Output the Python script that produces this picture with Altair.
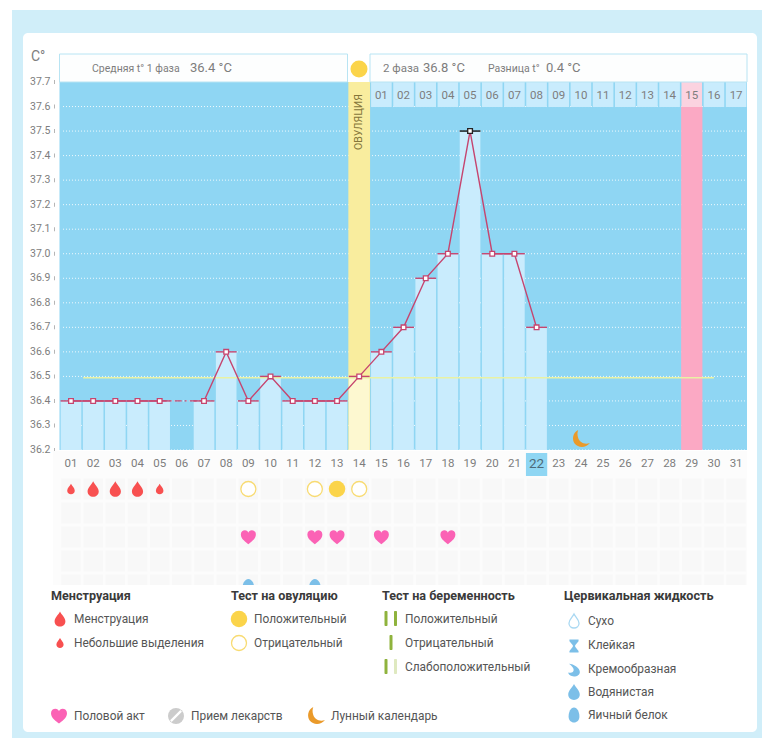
import altair as alt
import pandas as pd

FONT = "Roboto"
days = list(range(1, 32))
temps = [36.4, 36.4, 36.4, 36.4, 36.4, None, 36.4, 36.6, 36.4, 36.5, 36.4, 36.4, 36.4, 36.5,
         36.6, 36.7, 36.9, 37.0, 37.5, 37.0, 37.0, 36.7]
ticks_t = [36.2, 36.3, 36.4, 36.5, 36.6, 36.7, 36.8, 36.9, 37.0, 37.1, 37.2, 37.3, 37.4, 37.5, 37.6, 37.7]
grid_t = ticks_t[:-1]
cycle_days = list(range(15, 32))
cycle_labels = ["%02d" % i for i in range(1, 18)]
ovulation_day = 14
peak_day = 19
fertile_day = 29
current_day = 22
moon_day = 24
cover_t = 36.495
cover_days = [1.55, 30]
gap_days = [5, 7]
gap_t = 36.4
heavy = [2, 3, 4]
light = [1, 5]
ovu_neg = [9, 12, 14]
ovu_pos = [13]
hearts = [9, 12, 13, 15, 18]
fluid = [9, 12]
rows = [1, 2, 3, 4, 5]

BG, CARD, BLUE, BAR = "#d0eef9", "#ffffff", "#8fd6f3", "#c9ecfd"
RED, YEL, PINK, FL = "#f85050", "#fbd44a", "#fb62b5", "#7cbfe8"
LINE, GRAY, DARK, ORANGE = "#c6456f", "#7d7d7d", "#3a3a3a", "#ea9a2a"

DROP = "M0,-1 C0.2,-0.55 0.72,-0.2 0.72,0.32 C0.72,0.72 0.38,1 0,1 C-0.38,1 -0.72,0.72 -0.72,0.32 C-0.72,-0.2 -0.2,-0.55 0,-1 Z"
HEART = "M0,0.95 C-0.3,0.65 -1,0.3 -1,-0.35 C-1,-0.72 -0.72,-0.9 -0.45,-0.9 C-0.22,-0.9 -0.06,-0.75 0,-0.58 C0.06,-0.75 0.22,-0.9 0.45,-0.9 C0.72,-0.9 1,-0.72 1,-0.35 C1,0.3 0.3,0.65 0,0.95 Z"
MOON = "M-0.3,-1 C-0.95,-0.7 -1,0.1 -0.7,0.5 C-0.3,1 0.5,1.05 1,0.45 C0.4,0.65 -0.15,0.4 -0.3,-0.1 C-0.42,-0.45 -0.4,-0.75 -0.3,-1 Z"
EGG = "M0,-1 C0.45,-1 0.72,-0.4 0.72,0.2 C0.72,0.7 0.4,1 0,1 C-0.4,1 -0.72,0.7 -0.72,0.2 C-0.72,-0.4 -0.45,-1 0,-1 Z"
STICKY = "M-0.7,-1 L0.7,-1 L0.7,-0.75 L0.18,-0.1 L0.18,0.1 L0.7,0.75 L0.7,1 L-0.7,1 L-0.7,0.75 L-0.18,0.1 L-0.18,-0.1 L-0.7,-0.75 Z"
CREAM = "M-0.8,-0.95 C0,-0.9 0.9,-0.3 0.9,0.3 C0.9,0.75 0.45,1 0,1 C-0.45,1 -0.85,0.75 -0.9,0.4 C-0.35,0.55 0.1,0.2 -0.1,-0.25 C-0.25,-0.55 -0.55,-0.8 -0.8,-0.95 Z"
SLASH = "M0.62,-0.85 L0.85,-0.62 L-0.62,0.85 L-0.85,0.62 Z"

ONE = alt.Data(values=[{"a": 1}])
X_SCALE = alt.Scale(domain=[0.5, 31.5], range=[51.9, 739.2], nice=False, zero=False)
Y_SCALE = alt.Scale(domain=[36.2, 37.7], range=[442, 74], nice=False, zero=False)
R_SCALE = alt.Scale(domain=[1, 5], range=[481, 577], nice=False, zero=False)
X = alt.X("day:Q", scale=X_SCALE, axis=None)
Y = alt.Y("t:Q", scale=Y_SCALE, axis=None)
R = alt.Y("row:Q", scale=R_SCALE, axis=None)
HW = 0.465


def rect(x0, x1, y0, y1, color, **kw):
    return alt.Chart(ONE).mark_rect(color=color, **kw).encode(
        x=alt.value(x0 - 8), x2=alt.value(x1 - 8), y=alt.value(y0 - 8), y2=alt.value(y1 - 8))


def label(text, x, y, size=12, color=GRAY, weight="normal", align="left", angle=0):
    return alt.Chart(ONE).mark_text(font=FONT, fontSize=size, color=color, fontWeight=weight,
                                    align=align, baseline="middle", angle=angle).encode(
        x=alt.value(x - 8), y=alt.value(y - 8), text=alt.value(text))


def sym(x, y, shape, px, color, stroke=None):
    opts = dict(shape=shape, size=px * px, opacity=1)
    if stroke:
        opts.update(filled=True, fill=color, stroke=stroke, strokeWidth=1.3)
    else:
        opts.update(filled=True, color=color, strokeWidth=0)
    return alt.Chart(ONE).mark_point(**opts).encode(x=alt.value(x - 8), y=alt.value(y - 8))


def marks_row(day_list, row, shape, px, color, stroke=None):
    df = pd.DataFrame({"day": day_list, "row": [row] * len(day_list)})
    opts = dict(shape=shape, size=px * px, opacity=1)
    if stroke:
        opts.update(filled=True, fill=color, stroke=stroke, strokeWidth=1.3)
    else:
        opts.update(filled=True, color=color, strokeWidth=0)
    return alt.Chart(df).mark_point(**opts).encode(x=X, y=R)


L = []
# page panels
L.append(rect(12, 768, 10, 738, BG))
L.append(rect(23, 757, 33, 732, CARD, cornerRadius=5))
L.append(rect(59.5, 747, 82, 450, BLUE))

# grid
L.append(alt.Chart(pd.DataFrame({"t": grid_t})).mark_rule(color="white", strokeDash=[1, 2], opacity=0.85, strokeWidth=1)
         .encode(y=Y, x=alt.value(55), x2=alt.value(738)))

# ovulation + fertile columns
L.append(alt.Chart(pd.DataFrame({"day": [ovulation_day], "t": [ticks_t[0]], "t2": [ticks_t[-1]]}))
         .transform_calculate(a="datum.day-0.49", b="datum.day+0.49")
         .mark_rect(color="#f9ed9e")
         .encode(x=alt.X("a:Q", scale=X_SCALE, axis=None), x2="b:Q", y=Y, y2="t2:Q"))
L.append(alt.Chart(pd.DataFrame({"day": [fertile_day], "t": [ticks_t[0]], "t2": [grid_t[-1]]}))
         .transform_calculate(a="datum.day-0.48", b="datum.day+0.48")
         .mark_rect(color="#fba9c4")
         .encode(x=alt.X("a:Q", scale=X_SCALE, axis=None), x2="b:Q", y=Y, y2="t2:Q"))

# bars
bars = pd.DataFrame({"day": days[:len(temps)], "t": temps}).dropna()
bars["low"] = ticks_t[0]
bars["c"] = ["o" if d == ovulation_day else "n" for d in bars["day"]]
L.append(alt.Chart(bars).transform_calculate(a=f"datum.day-{HW}", b=f"datum.day+{HW}")
         .mark_rect()
         .encode(x=alt.X("a:Q", scale=X_SCALE, axis=None), x2="b:Q", y=Y, y2="low:Q",
                 color=alt.Color("c:N", legend=None,
                                 scale=alt.Scale(domain=["n", "o"], range=[BAR, "#fdf8d0"]))))

# cycle-day cells on top
cyc = pd.DataFrame({"day": cycle_days, "lab": cycle_labels})
cyc["c"] = ["p" if d == fertile_day else "n" for d in cycle_days]
L.append(alt.Chart(cyc).transform_calculate(a=f"datum.day-{HW}", b=f"datum.day+{HW}")
         .mark_rect()
         .encode(x=alt.X("a:Q", scale=X_SCALE, axis=None), x2="b:Q", y=alt.value(74), y2=alt.value(99),
                 color=alt.Color("c:N", legend=None,
                                 scale=alt.Scale(domain=["n", "p"], range=[BAR, "#fbd3e0"]))))
L.append(alt.Chart(cyc).mark_text(font=FONT, fontSize=11.5, color=GRAY, baseline="middle")
         .encode(x=X, y=alt.value(88), text="lab:N"))

# header boxes
L.append(rect(59.5, 347.5, 54, 82, "#fdfefe", stroke="#b8e4f3", strokeWidth=1))
L.append(rect(370, 747, 54, 82, "#fdfefe", stroke="#b8e4f3", strokeWidth=1))
L.append(sym(359, 69, "circle", 17, YEL))
L.append(label("Средняя t° 1 фаза", 92, 69, 10.5))
L.append(label("36.4 °C", 190, 68, 13))
L.append(label("2 фаза", 383, 69, 11.5))
L.append(label("36.8 °C", 423, 68, 13))
L.append(label("Разница t°", 488, 69, 10.5))
L.append(label("0.4 °C", 546, 68, 13))
L.append(label("ОВУЛЯЦИЯ", 359, 122, 10.5, "#85763a", align="center", angle=270))

# cover line
L.append(alt.Chart(pd.DataFrame({"a": [cover_days[0]], "b": [cover_days[1]], "t": [cover_t]}))
         .mark_rule(color="#e9f2a4", strokeWidth=1.5)
         .encode(x=alt.X("a:Q", scale=X_SCALE, axis=None), x2="b:Q", y=Y))

# temperature line
line_df = pd.DataFrame({"day": days[:len(temps)], "t": temps})
L.append(alt.Chart(pd.DataFrame({"a": [gap_days[0]], "b": [gap_days[1]], "t": [gap_t]}))
         .mark_rule(color=LINE, strokeWidth=1.3, strokeDash=[7, 3, 2, 3])
         .encode(x=alt.X("a:Q", scale=X_SCALE, axis=None), x2="b:Q", y=Y))
L.append(alt.Chart(line_df).mark_line(color=LINE, strokeWidth=1.4).encode(x=X, y=Y))
tick_df = bars.copy()
tick_df["k"] = ["peak" if d == peak_day else "n" for d in tick_df["day"]]
L.append(alt.Chart(tick_df).transform_calculate(a="datum.day-0.47", b="datum.day+0.47")
         .mark_rule(strokeWidth=1.4)
         .encode(x=alt.X("a:Q", scale=X_SCALE, axis=None), x2="b:Q", y=Y,
                 color=alt.Color("k:N", legend=None,
                                 scale=alt.Scale(domain=["n", "peak"], range=[LINE, "#111111"]))))
L.append(alt.Chart(bars).mark_square(size=22, filled=True, fill="white", stroke=LINE, strokeWidth=1.3, opacity=1)
         .encode(x=X, y=Y))
L.append(alt.Chart(pd.DataFrame({"day": [peak_day], "t": [max(t for t in temps if t)]}))
         .mark_square(size=22, filled=True, fill="white", stroke="#222222", strokeWidth=1.3, opacity=1)
         .encode(x=X, y=Y))
L.append(alt.Chart(pd.DataFrame({"day": [moon_day], "t": [36.245]}))
         .mark_point(shape=MOON, size=324, filled=True, color=ORANGE, strokeWidth=0, opacity=1).encode(x=X, y=Y))

# y axis
ydf = pd.DataFrame({"t": ticks_t})
ydf["lab"] = [f"{t:.1f}" for t in ticks_t]
L.append(alt.Chart(ydf).mark_text(font=FONT, fontSize=10.5, color=GRAY, align="left", baseline="middle")
         .encode(x=alt.value(22), y=Y, text="lab:N"))
L.append(alt.Chart(ydf).mark_tick(orient="vertical", height=4, thickness=1, color="#b5b5b5", opacity=1)
         .encode(x=alt.value(46.5), y=Y))
L.append(label("C°", 31, 57, 14))

# lower area
L.append(rect(53, 747, 451, 585, "#fcfcfc"))
cells = pd.DataFrame([{"day": d, "row": r} for r in rows for d in days])
cells["r0"] = cells["row"] - 0.44
cells["r1"] = cells["row"] + 0.44
L.append(alt.Chart(cells).transform_calculate(a="datum.day-0.44", b="datum.day+0.44")
         .mark_rect(color="#f8f8f8")
         .encode(x=alt.X("a:Q", scale=X_SCALE, axis=None), x2="b:Q",
                 y=alt.Y("r0:Q", scale=R_SCALE, axis=None), y2="r1:Q"))
L.append(alt.Chart(pd.DataFrame({"day": [current_day]})).transform_calculate(a="datum.day-0.48", b="datum.day+0.48")
         .mark_rect(color=BLUE)
         .encode(x=alt.X("a:Q", scale=X_SCALE, axis=None), x2="b:Q", y=alt.value(445), y2=alt.value(468)))
xdf = pd.DataFrame({"day": days, "lab": ["%02d" % d for d in days]})
xdf = xdf[xdf["day"] != current_day]
L.append(alt.Chart(xdf).mark_text(font=FONT, fontSize=11.5, color=GRAY, baseline="middle")
         .encode(x=X, y=alt.value(456), text="lab:N"))
L.append(alt.Chart(pd.DataFrame({"day": [current_day], "lab": ["%02d" % current_day]}))
         .mark_text(font=FONT, fontSize=13.5, color="#4d6a7a", baseline="middle")
         .encode(x=X, y=alt.value(456), text="lab:N"))

# events
L.append(marks_row(heavy, 1, DROP, 15.5, RED))
L.append(marks_row(light, 1, DROP, 10.5, RED))
L.append(marks_row(ovu_neg, 1, "circle", 15, "white", "#f8db72"))
L.append(marks_row(ovu_pos, 1, "circle", 16.5, YEL))
L.append(marks_row(hearts, 3, HEART, 15, PINK))
L.append(marks_row(fluid, 5.1, EGG, 17, FL))
L.append(rect(40, 752, 585, 600, CARD))

# legend
TITLE = dict(size=12.6, color=DARK, weight="bold")
ITEM = dict(size=11.9, color="#555555")
for txt, x in [("Менструация", 51), ("Тест на овуляцию", 231), ("Тест на беременность", 382), ("Цервикальная жидкость", 564)]:
    L.append(label(txt, x, 596, **TITLE))

L += [sym(60, 619, DROP, 15, RED), label("Менструация", 74, 619, **ITEM),
      sym(60, 643, DROP, 10, RED), label("Небольшие выделения", 74, 643, **ITEM),
      sym(239, 619, "circle", 16.5, YEL), label("Положительный", 254, 619, **ITEM),
      sym(239, 643, "circle", 15, "white", "#f8db72"), label("Отрицательный", 254, 643, **ITEM)]

GREEN, PALE = "#8fb33d", "#dfe9c0"
L += [rect(384.5, 387.5, 611, 626, GREEN, cornerRadius=1), rect(394, 397, 611, 626, GREEN, cornerRadius=1),
      rect(389.5, 392.5, 635, 650, GREEN, cornerRadius=1),
      rect(384.5, 387.5, 659, 674, GREEN, cornerRadius=1), rect(394, 397, 659, 674, PALE, cornerRadius=1),
      label("Положительный", 405, 619, **ITEM), label("Отрицательный", 405, 643, **ITEM),
      label("Слабоположительный", 405, 667, **ITEM)]

L += [sym(574, 621, DROP, 14, "white", "#a9d8f2"), label("Сухо", 588, 621, **ITEM),
      sym(574, 646, STICKY, 13, FL), label("Клейкая", 588, 645, **ITEM),
      sym(574, 670, CREAM, 13, FL), label("Кремообразная", 588, 669, **ITEM),
      sym(574, 692, DROP, 16, FL), label("Водянистая", 588, 692, **ITEM),
      sym(574, 715, EGG, 15, FL), label("Яичный белок", 588, 715, **ITEM)]

L += [sym(59, 716, HEART, 16, PINK), label("Половой акт", 74, 716, **ITEM),
      sym(176, 716, "circle", 16, "#cccccc"), sym(176, 716, SLASH, 14, "white"), label("Прием лекарств", 191, 716, **ITEM),
      sym(316, 716, MOON, 18, ORANGE), label("Лунный календарь", 331, 716, **ITEM)]

chart = (alt.layer(*L)
         .resolve_scale(y="independent", color="independent")
         .properties(width=754, height=730, padding=0, autosize=alt.AutoSizeParams(type="none"))
         .configure_view(stroke=None))
chart.save("out.html", embed_options={"renderer": "svg", "actions": False})
